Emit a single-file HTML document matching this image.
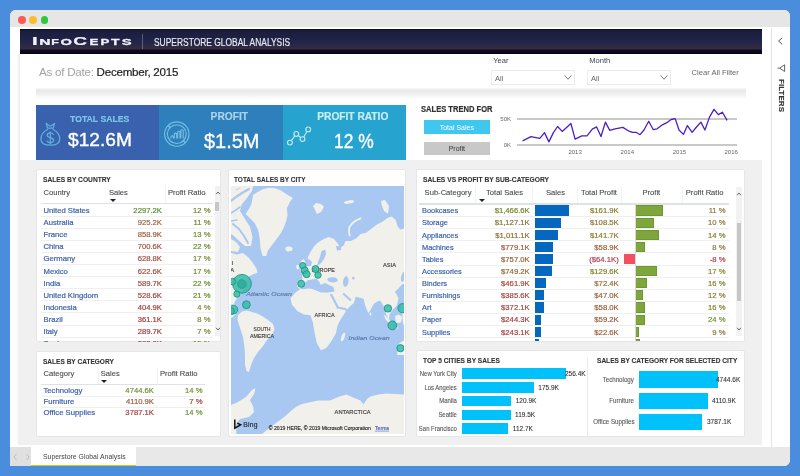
<!DOCTYPE html>
<html><head><meta charset="utf-8"><title>Superstore Global Analysis</title>
<style>
html,body{margin:0;padding:0;}
body{width:800px;height:476px;position:relative;overflow:hidden;background:#4b8ddd;font-family:'Liberation Sans', sans-serif;}
body div{font-family:'Liberation Sans', sans-serif;}
</style></head><body>
<div style="position:absolute;left:0;top:0;width:800px;height:476px;will-change:transform">
<div style="position:absolute;left:10px;top:10px;width:780px;height:456px;border-radius:6px;background:#fff;overflow:hidden"><div style="position:absolute;left:0;top:0;width:780px;height:17.2px;background:#e6e6e6"></div><div style="position:absolute;left:0;top:436.5px;width:780px;height:20px;background:#e8e8e8"></div></div>
<div style="position:absolute;left:17.80px;top:16.00px;width:7.8px;height:7.8px;border-radius:50%;background:#fc5a55"></div>
<div style="position:absolute;left:29.30px;top:16.00px;width:7.8px;height:7.8px;border-radius:50%;background:#fdbb2f"></div>
<div style="position:absolute;left:40.50px;top:16.00px;width:7.8px;height:7.8px;border-radius:50%;background:#2fc641"></div>
<div style="position:absolute;left:20.00px;top:29.00px;width:742.00px;height:25.00px;background:linear-gradient(#0b0b26 0%, #1b1d3d 8%, #23254a 55%, #2c2a45 70%, #3a2a3a 78%, #0c0b22 86%, #05051a 100%);"></div>
<svg id="logo" style="position:absolute;left:0;top:0" width="800" height="60" viewBox="0 0 800 60"><text transform="translate(32.00 45.4) scale(1.770 1)" font-size="11.3" font-weight="bold" fill="#f2f2f8" stroke="#f2f2f8" stroke-width="0.25" font-family="Liberation Sans, sans-serif">I</text><text transform="translate(39.21 45.4) scale(1.847 1)" font-size="8.4" font-weight="bold" fill="#f2f2f8" stroke="#f2f2f8" stroke-width="0.25" font-family="Liberation Sans, sans-serif">N</text><text transform="translate(51.13 45.4) scale(1.476 1)" font-size="8.4" font-weight="bold" fill="#f2f2f8" stroke="#f2f2f8" stroke-width="0.25" font-family="Liberation Sans, sans-serif">F</text><text transform="translate(60.41 45.4) scale(1.752 1)" font-size="8.4" font-weight="bold" fill="#f2f2f8" stroke="#f2f2f8" stroke-width="0.25" font-family="Liberation Sans, sans-serif">O</text><text transform="translate(73.24 45.4) scale(1.688 1)" font-size="11.3" font-weight="bold" fill="#f2f2f8" stroke="#f2f2f8" stroke-width="0.25" font-family="Liberation Sans, sans-serif">C</text><text transform="translate(89.56 45.4) scale(1.594 1)" font-size="8.4" font-weight="bold" fill="#f2f2f8" stroke="#f2f2f8" stroke-width="0.25" font-family="Liberation Sans, sans-serif">E</text><text transform="translate(100.56 45.4) scale(1.594 1)" font-size="8.4" font-weight="bold" fill="#f2f2f8" stroke="#f2f2f8" stroke-width="0.25" font-family="Liberation Sans, sans-serif">P</text><text transform="translate(111.06 45.4) scale(1.655 1)" font-size="8.4" font-weight="bold" fill="#f2f2f8" stroke="#f2f2f8" stroke-width="0.25" font-family="Liberation Sans, sans-serif">T</text><text transform="translate(121.76 45.4) scale(1.766 1)" font-size="8.4" font-weight="bold" fill="#f2f2f8" stroke="#f2f2f8" stroke-width="0.25" font-family="Liberation Sans, sans-serif">S</text></svg>
<div style="position:absolute;left:142.00px;top:34.00px;width:1.00px;height:15.00px;background:rgba(200,200,220,0.35);"></div>
<div id="hdr" style="position:absolute;top:37.55px;font-size:10.1px;line-height:10.1px;color:#ececf2;font-weight:normal;font-style:normal;white-space:nowrap;letter-spacing:0px;-webkit-text-stroke:0.15px currentColor;left:154.00px;transform:scaleX(0.835);transform-origin:0 0;">SUPERSTORE GLOBAL ANALYSIS</div>
<div style="position:absolute;left:770.50px;top:28.00px;width:1.00px;height:419.00px;background:#e2e2e2;"></div>
<svg style="position:absolute;left:0;top:0" width="800" height="100" viewBox="0 0 800 100"><path d="M782.2 37.8 L778.6 41 L782.2 44.3" fill="none" stroke="#555" stroke-width="1"/></svg>
<svg style="position:absolute;left:0;top:0" width="800" height="100" viewBox="0 0 800 100"><path d="M784.6 64.8 L784.6 71.5 L779.6 68.2 Z M779.6 68.2 L777.6 68.2" fill="none" stroke="#555" stroke-width="0.9" stroke-linejoin="round"/></svg>
<div id="filters" style="position:absolute;left:781px;top:79px;font-family:'Liberation Sans', sans-serif;font-size:7.9px;line-height:9px;font-weight:bold;color:#333;white-space:nowrap;-webkit-text-stroke:0.15px #333;transform-origin:0 0;transform:rotate(90deg) translate(0,-4.5px);letter-spacing:0.1px">FILTERS</div>
<div style="position:absolute;left:19.00px;top:160.00px;width:743.00px;height:285.00px;background:#f0f0f0;"></div>
<div style="position:absolute;left:16.00px;top:54.00px;width:4.00px;height:391.00px;background:linear-gradient(to right, #ffffff, #f6f6f6 50%, #ebebeb);"></div>
<div id="date" style="position:absolute;left:39px;top:65.98px;font-family:'Liberation Sans', sans-serif;font-size:11.6px;line-height:11.6px;white-space:nowrap;letter-spacing:-0.25px"><span style="color:#a3a3a3">As of Date: </span><span style="color:#222;-webkit-text-stroke:0.2px #222">December, 2015</span></div>
<div id="year" style="position:absolute;top:56.87px;font-size:7.6px;line-height:7.6px;color:#3a4656;font-weight:normal;font-style:normal;white-space:nowrap;letter-spacing:0px;left:493.20px;">Year</div>
<div id="month" style="position:absolute;top:56.87px;font-size:7.6px;line-height:7.6px;color:#3a4656;font-weight:normal;font-style:normal;white-space:nowrap;letter-spacing:0px;left:589.20px;">Month</div>
<div style="position:absolute;left:491.20px;top:69.80px;width:84.00px;height:15.70px;background:#fff;box-sizing:border-box;border:1px solid #ececec"></div>
<div style="position:absolute;top:75.07px;font-size:7.6px;line-height:7.6px;color:#666;font-weight:normal;font-style:normal;white-space:nowrap;letter-spacing:0px;left:495.00px;">All</div>
<svg style="position:absolute;left:564.20px;top:75px" width="8" height="5" viewBox="0 0 8 5"><path d="M0.5 0.5 L4 4.2 L7.5 0.5" fill="none" stroke="#666" stroke-width="0.9"/></svg>
<div style="position:absolute;left:587.20px;top:69.80px;width:84.20px;height:15.70px;background:#fff;box-sizing:border-box;border:1px solid #ececec"></div>
<div style="position:absolute;top:75.07px;font-size:7.6px;line-height:7.6px;color:#666;font-weight:normal;font-style:normal;white-space:nowrap;letter-spacing:0px;left:591.00px;">All</div>
<svg style="position:absolute;left:660.40px;top:75px" width="8" height="5" viewBox="0 0 8 5"><path d="M0.5 0.5 L4 4.2 L7.5 0.5" fill="none" stroke="#666" stroke-width="0.9"/></svg>
<div id="clear" style="position:absolute;top:68.87px;font-size:7.6px;line-height:7.6px;color:#666;font-weight:normal;font-style:normal;white-space:nowrap;letter-spacing:0px;left:691.60px;">Clear All Filter</div>
<div style="position:absolute;left:36.00px;top:87.50px;width:710.00px;height:11.00px;background:linear-gradient(#f8f8f8 0%, #e8e8e8 22%, #eeeeee 50%, #f8f8f8 80%, #ffffff 100%);"></div>
<div style="position:absolute;left:36.00px;top:98.50px;width:710.00px;height:5.50px;background:#fff;"></div>
<div style="position:absolute;left:36.00px;top:105.00px;width:123.00px;height:54.50px;background:#3a61ad;"></div>
<div style="position:absolute;left:159.00px;top:105.00px;width:124.00px;height:54.50px;background:#2e80bd;"></div>
<div style="position:absolute;left:283.00px;top:105.00px;width:123.40px;height:54.50px;background:#26a4cf;"></div>
<div id="k1t" style="position:absolute;top:114.47px;font-size:9.6px;line-height:9.6px;color:#7cc6ea;font-weight:bold;font-style:normal;white-space:nowrap;letter-spacing:0px;-webkit-text-stroke:0.2px currentColor;left:70.30px;transform:scaleX(0.905);transform-origin:0 0;">TOTAL SALES</div>
<div id="k1v" style="position:absolute;top:131.27px;font-size:18.7px;line-height:18.7px;color:#ffffff;font-weight:normal;font-style:normal;white-space:nowrap;letter-spacing:0px;-webkit-text-stroke:0.35px currentColor;left:67.60px;transform:scaleX(1.026);transform-origin:0 0;">$12.6M</div>
<div id="k2t" style="position:absolute;top:112.37px;font-size:10.2px;line-height:10.2px;color:#a9d4ea;font-weight:bold;font-style:normal;white-space:nowrap;letter-spacing:0px;-webkit-text-stroke:0.2px currentColor;left:229.30px;transform:translateX(-50%) ;transform-origin:0 0">PROFIT</div>
<div id="k2v" style="position:absolute;top:130.57px;font-size:20px;line-height:20px;color:#ffffff;font-weight:normal;font-style:normal;white-space:nowrap;letter-spacing:0px;-webkit-text-stroke:0.35px currentColor;left:231.70px;transform:translateX(-50%) ;transform-origin:0 0">$1.5M</div>
<div id="k3t" style="position:absolute;top:112.37px;font-size:10.2px;line-height:10.2px;color:#c9ecf3;font-weight:bold;font-style:normal;white-space:nowrap;letter-spacing:0px;-webkit-text-stroke:0.2px currentColor;left:352.80px;transform:translateX(-50%) ;transform-origin:0 0">PROFIT RATIO</div>
<div id="k3v" style="position:absolute;top:130.57px;font-size:20px;line-height:20px;color:#ffffff;font-weight:normal;font-style:normal;white-space:nowrap;letter-spacing:0px;-webkit-text-stroke:0.35px currentColor;left:334.00px;transform:scaleX(0.87);transform-origin:0 0;">12 %</div>
<svg style="position:absolute;left:0;top:0" width="800" height="200" viewBox="0 0 800 200"><g fill="none" stroke="#5eb0de" stroke-width="1.25" stroke-linejoin="round"><path d="M46.2 123.4 L50.3 126.2 L54.6 123.4 L53.1 128.2 L47.6 128.2 Z"/><path d="M48 129.2 C42.5 132 40.9 135.8 40.9 139 C40.9 143.4 44.6 145.2 50.4 145.2 C56.2 145.2 59.8 143.4 59.8 139 C59.8 135.8 58.2 132 52.7 129.2"/><path d="M53.6 134.7 C53 133.5 52 132.9 50.3 132.9 C48.4 132.9 47.2 133.9 47.2 135.3 C47.2 138.3 53.7 137 53.7 140.3 C53.7 141.6 52.4 142.5 50.3 142.5 C48.6 142.5 47.4 141.8 46.9 140.7"/><path d="M50.3 131.4 L50.3 144"/></g></svg>
<svg style="position:absolute;left:0;top:0" width="800" height="200" viewBox="0 0 800 200"><g fill="none" stroke="#78bfe4" stroke-width="1.1"><circle cx="176.8" cy="134.1" r="12.2"/><circle cx="176.8" cy="134.1" r="9.4"/><path d="M171.0 138.4 L171.0 136.5 Q172.2 135.0 173.4 136.5 L173.4 138.4 M174.3 138.4 L174.3 133.9 Q175.5 132.4 176.70000000000002 133.9 L176.70000000000002 138.4 M177.6 138.4 L177.6 132.0 Q178.79999999999998 130.5 180.0 132.0 L180.0 138.4 M180.8 138.4 L180.8 130.5 Q182.0 129.0 183.20000000000002 130.5 L183.20000000000002 138.4 "/><path d="M168.3 125.8 L170.6 127.9 M183 140.3 L185.3 142.4" stroke-width="1.3"/></g></svg>
<svg style="position:absolute;left:0;top:0" width="800" height="200" viewBox="0 0 800 200"><g fill="none" stroke="#c4e8f1" stroke-width="1.15"><circle cx="289.9" cy="142.6" r="2.4"/><circle cx="296.3" cy="133.9" r="2.4"/><circle cx="302.5" cy="139.1" r="2.4"/><circle cx="308.2" cy="129.4" r="2.4"/><path d="M291.3 140.7 L294.9 135.8 M298.2 135.5 L300.6 137.5 M303.8 137 L306.9 131.5"/></g></svg>
<div id="trendt" style="position:absolute;top:104.87px;font-size:8.3px;line-height:8.3px;color:#333;font-weight:bold;font-style:normal;white-space:nowrap;letter-spacing:0px;-webkit-text-stroke:0.2px currentColor;left:421.20px;transform:scaleX(0.913);transform-origin:0 0;">SALES TREND FOR</div>
<div style="position:absolute;left:423.80px;top:120.00px;width:66.00px;height:14.00px;background:#3fc7f0;"></div>
<div style="position:absolute;top:123.77px;font-size:7px;line-height:7px;color:#fff;font-weight:normal;font-style:normal;white-space:nowrap;letter-spacing:0px;left:456.80px;transform:translateX(-50%) ;transform-origin:0 0">Total Sales</div>
<div style="position:absolute;left:423.80px;top:141.80px;width:66.00px;height:13.40px;background:#c8c8c8;"></div>
<div style="position:absolute;top:145.37px;font-size:7px;line-height:7px;color:#333;font-weight:normal;font-style:normal;white-space:nowrap;letter-spacing:0px;left:456.80px;transform:translateX(-50%) ;transform-origin:0 0">Profit</div>
<div style="position:absolute;top:115.92px;font-size:6px;line-height:6px;color:#666;font-weight:normal;font-style:normal;white-space:nowrap;letter-spacing:0px;right:289.00px;text-align:right;">50K</div>
<div style="position:absolute;top:141.92px;font-size:6px;line-height:6px;color:#666;font-weight:normal;font-style:normal;white-space:nowrap;letter-spacing:0px;right:289.00px;text-align:right;">0K</div>
<div style="position:absolute;left:517.40px;top:118.10px;width:219.60px;height:1.80px;background:#c8c8c8;"></div>
<div style="position:absolute;left:517.40px;top:144.00px;width:219.60px;height:1.60px;background:#c8c8c8;"></div>
<div style="position:absolute;top:149.12px;font-size:6px;line-height:6px;color:#666;font-weight:normal;font-style:normal;white-space:nowrap;letter-spacing:0px;left:575.10px;transform:translateX(-50%) ;transform-origin:0 0">2013</div>
<div style="position:absolute;top:149.12px;font-size:6px;line-height:6px;color:#666;font-weight:normal;font-style:normal;white-space:nowrap;letter-spacing:0px;left:627.30px;transform:translateX(-50%) ;transform-origin:0 0">2014</div>
<div style="position:absolute;top:149.12px;font-size:6px;line-height:6px;color:#666;font-weight:normal;font-style:normal;white-space:nowrap;letter-spacing:0px;left:679.40px;transform:translateX(-50%) ;transform-origin:0 0">2015</div>
<div style="position:absolute;top:149.12px;font-size:6px;line-height:6px;color:#666;font-weight:normal;font-style:normal;white-space:nowrap;letter-spacing:0px;left:731.20px;transform:translateX(-50%) ;transform-origin:0 0">2016</div>
<svg style="position:absolute;left:0;top:0" width="800" height="476" viewBox="0 0 800 476"><path d="M522.6 140.9 L531.0 136.7 L539.8 138.4 L544.5 132.6 L548.9 141.9 L553.4 132.6 L557.6 126.5 L562.2 131.4 L570.9 123.5 L575.1 139.1 L581.8 135.8 L587.0 135.8 L592.3 129.1 L596.6 126.9 L601.0 136.5 L605.4 122.1 L609.8 130.4 L615.0 128.8 L622.9 127.4 L629.0 131.2 L632.5 132.3 L636.0 132.3 L640.0 134.7 L644.0 130.0 L648.7 121.3 L653.3 129.7 L657.1 128.8 L662.4 124.8 L666.8 122.7 L671.1 119.5 L675.2 118.6 L679.0 130.0 L683.4 134.4 L687.4 125.6 L692.1 132.3 L696.5 127.0 L700.9 122.1 L704.9 130.0 L709.6 116.9 L714.0 109.4 L718.4 114.6 L722.4 112.2 L727.1 120.4" fill="none" stroke="#4b1fc8" stroke-width="1.3" stroke-linejoin="round"/></svg>
<div style="position:absolute;left:36px;top:169px;width:185px;height:173px;background:#fff;box-sizing:border-box;border:1px solid #e6e6e6;border-radius:2px"></div>
<div style="position:absolute;left:36px;top:350.5px;width:185px;height:86.5px;background:#fff;box-sizing:border-box;border:1px solid #e6e6e6;border-radius:2px"></div>
<div style="position:absolute;left:227.6px;top:169px;width:178.79999999999998px;height:268px;background:#fff;box-sizing:border-box;border:1px solid #e6e6e6;border-radius:2px"></div>
<div style="position:absolute;left:415.5px;top:169px;width:329.5px;height:173.2px;background:#fff;box-sizing:border-box;border:1px solid #e6e6e6;border-radius:2px"></div>
<div style="position:absolute;left:415.5px;top:350.2px;width:329.5px;height:86.80000000000001px;background:#fff;box-sizing:border-box;border:1px solid #e6e6e6;border-radius:2px"></div>
<div id="t_country" style="position:absolute;top:175.57px;font-size:7.6px;line-height:7.6px;color:#333;font-weight:bold;font-style:normal;white-space:nowrap;letter-spacing:0px;-webkit-text-stroke:0.1px currentColor;left:43.00px;transform:scaleX(0.878);transform-origin:0 0;">SALES BY COUNTRY</div>
<div style="position:absolute;left:41.00px;top:186.00px;width:172.00px;height:17.00px;background:#fff;"></div>
<div id="h_country" style="position:absolute;top:188.87px;font-size:7.6px;line-height:7.6px;color:#4a4a4a;font-weight:normal;font-style:normal;white-space:nowrap;letter-spacing:0px;-webkit-text-stroke:0.1px currentColor;left:43.50px;">Country</div>
<div style="position:absolute;top:188.87px;font-size:7.6px;line-height:7.6px;color:#4a4a4a;font-weight:normal;font-style:normal;white-space:nowrap;letter-spacing:0px;-webkit-text-stroke:0.1px currentColor;left:108.90px;">Sales</div>
<div id="h_pr" style="position:absolute;top:188.87px;font-size:7.6px;line-height:7.6px;color:#4a4a4a;font-weight:normal;font-style:normal;white-space:nowrap;letter-spacing:0px;-webkit-text-stroke:0.1px currentColor;left:167.90px;">Profit Ratio</div>
<div style="position:absolute;left:164.50px;top:186.00px;width:0.70px;height:17.00px;background:#f3f3f3;"></div>
<div style="position:absolute;left:109.5px;top:198.5px;width:0;height:0;border-left:3px solid transparent;border-right:3px solid transparent;border-top:3.5px solid #222"></div>
<div style="position:absolute;left:41.00px;top:202.60px;width:172.00px;height:1.60px;background:#dde2ea;"></div>
<div style="position:absolute;left:0;top:0;width:800px;height:341.8px;overflow:hidden">
<div style="position:absolute;top:207.08px;font-size:7.7px;line-height:7.7px;color:#3d62aa;font-weight:normal;font-style:normal;white-space:nowrap;letter-spacing:0px;-webkit-text-stroke:0.2px currentColor;left:43.50px;">United States</div>
<div style="position:absolute;top:207.08px;font-size:7.7px;line-height:7.7px;color:#5e8f31;font-weight:normal;font-style:normal;white-space:nowrap;letter-spacing:0px;-webkit-text-stroke:0.2px currentColor;right:638.00px;text-align:right;">2297.2K</div>
<div style="position:absolute;top:207.08px;font-size:7.7px;line-height:7.7px;color:#758c31;font-weight:normal;font-style:normal;white-space:nowrap;letter-spacing:0px;-webkit-text-stroke:0.2px currentColor;right:589.50px;text-align:right;">12 %</div>
<div style="position:absolute;left:41.00px;top:215.60px;width:172.00px;height:0.80px;background:#efefef;"></div>
<div style="position:absolute;top:219.18px;font-size:7.7px;line-height:7.7px;color:#3d62aa;font-weight:normal;font-style:normal;white-space:nowrap;letter-spacing:0px;-webkit-text-stroke:0.2px currentColor;left:43.50px;">Australia</div>
<div style="position:absolute;top:219.18px;font-size:7.7px;line-height:7.7px;color:#9c6848;font-weight:normal;font-style:normal;white-space:nowrap;letter-spacing:0px;-webkit-text-stroke:0.2px currentColor;right:638.00px;text-align:right;">925.2K</div>
<div style="position:absolute;top:219.18px;font-size:7.7px;line-height:7.7px;color:#758631;font-weight:normal;font-style:normal;white-space:nowrap;letter-spacing:0px;-webkit-text-stroke:0.2px currentColor;right:589.50px;text-align:right;">11 %</div>
<div style="position:absolute;left:41.00px;top:227.70px;width:172.00px;height:0.80px;background:#efefef;"></div>
<div style="position:absolute;top:231.28px;font-size:7.7px;line-height:7.7px;color:#3d62aa;font-weight:normal;font-style:normal;white-space:nowrap;letter-spacing:0px;-webkit-text-stroke:0.2px currentColor;left:43.50px;">France</div>
<div style="position:absolute;top:231.28px;font-size:7.7px;line-height:7.7px;color:#9c5e44;font-weight:normal;font-style:normal;white-space:nowrap;letter-spacing:0px;-webkit-text-stroke:0.2px currentColor;right:638.00px;text-align:right;">858.9K</div>
<div style="position:absolute;top:231.28px;font-size:7.7px;line-height:7.7px;color:#758c31;font-weight:normal;font-style:normal;white-space:nowrap;letter-spacing:0px;-webkit-text-stroke:0.2px currentColor;right:589.50px;text-align:right;">13 %</div>
<div style="position:absolute;left:41.00px;top:239.80px;width:172.00px;height:0.80px;background:#efefef;"></div>
<div style="position:absolute;top:243.38px;font-size:7.7px;line-height:7.7px;color:#3d62aa;font-weight:normal;font-style:normal;white-space:nowrap;letter-spacing:0px;-webkit-text-stroke:0.2px currentColor;left:43.50px;">China</div>
<div style="position:absolute;top:243.38px;font-size:7.7px;line-height:7.7px;color:#a05544;font-weight:normal;font-style:normal;white-space:nowrap;letter-spacing:0px;-webkit-text-stroke:0.2px currentColor;right:638.00px;text-align:right;">700.6K</div>
<div style="position:absolute;top:243.38px;font-size:7.7px;line-height:7.7px;color:#689030;font-weight:normal;font-style:normal;white-space:nowrap;letter-spacing:0px;-webkit-text-stroke:0.2px currentColor;right:589.50px;text-align:right;">22 %</div>
<div style="position:absolute;left:41.00px;top:251.90px;width:172.00px;height:0.80px;background:#efefef;"></div>
<div style="position:absolute;top:255.48px;font-size:7.7px;line-height:7.7px;color:#3d62aa;font-weight:normal;font-style:normal;white-space:nowrap;letter-spacing:0px;-webkit-text-stroke:0.2px currentColor;left:43.50px;">Germany</div>
<div style="position:absolute;top:255.48px;font-size:7.7px;line-height:7.7px;color:#a15041;font-weight:normal;font-style:normal;white-space:nowrap;letter-spacing:0px;-webkit-text-stroke:0.2px currentColor;right:638.00px;text-align:right;">628.8K</div>
<div style="position:absolute;top:255.48px;font-size:7.7px;line-height:7.7px;color:#748f31;font-weight:normal;font-style:normal;white-space:nowrap;letter-spacing:0px;-webkit-text-stroke:0.2px currentColor;right:589.50px;text-align:right;">17 %</div>
<div style="position:absolute;left:41.00px;top:264.00px;width:172.00px;height:0.80px;background:#efefef;"></div>
<div style="position:absolute;top:267.58px;font-size:7.7px;line-height:7.7px;color:#3d62aa;font-weight:normal;font-style:normal;white-space:nowrap;letter-spacing:0px;-webkit-text-stroke:0.2px currentColor;left:43.50px;">Mexico</div>
<div style="position:absolute;top:267.58px;font-size:7.7px;line-height:7.7px;color:#a15041;font-weight:normal;font-style:normal;white-space:nowrap;letter-spacing:0px;-webkit-text-stroke:0.2px currentColor;right:638.00px;text-align:right;">622.6K</div>
<div style="position:absolute;top:267.58px;font-size:7.7px;line-height:7.7px;color:#748f31;font-weight:normal;font-style:normal;white-space:nowrap;letter-spacing:0px;-webkit-text-stroke:0.2px currentColor;right:589.50px;text-align:right;">17 %</div>
<div style="position:absolute;left:41.00px;top:276.10px;width:172.00px;height:0.80px;background:#efefef;"></div>
<div style="position:absolute;top:279.68px;font-size:7.7px;line-height:7.7px;color:#3d62aa;font-weight:normal;font-style:normal;white-space:nowrap;letter-spacing:0px;-webkit-text-stroke:0.2px currentColor;left:43.50px;">India</div>
<div style="position:absolute;top:279.68px;font-size:7.7px;line-height:7.7px;color:#a24b3f;font-weight:normal;font-style:normal;white-space:nowrap;letter-spacing:0px;-webkit-text-stroke:0.2px currentColor;right:638.00px;text-align:right;">589.7K</div>
<div style="position:absolute;top:279.68px;font-size:7.7px;line-height:7.7px;color:#689030;font-weight:normal;font-style:normal;white-space:nowrap;letter-spacing:0px;-webkit-text-stroke:0.2px currentColor;right:589.50px;text-align:right;">22 %</div>
<div style="position:absolute;left:41.00px;top:288.20px;width:172.00px;height:0.80px;background:#efefef;"></div>
<div style="position:absolute;top:291.78px;font-size:7.7px;line-height:7.7px;color:#3d62aa;font-weight:normal;font-style:normal;white-space:nowrap;letter-spacing:0px;-webkit-text-stroke:0.2px currentColor;left:43.50px;">United Kingdom</div>
<div style="position:absolute;top:291.78px;font-size:7.7px;line-height:7.7px;color:#a2473f;font-weight:normal;font-style:normal;white-space:nowrap;letter-spacing:0px;-webkit-text-stroke:0.2px currentColor;right:638.00px;text-align:right;">528.6K</div>
<div style="position:absolute;top:291.78px;font-size:7.7px;line-height:7.7px;color:#6a9130;font-weight:normal;font-style:normal;white-space:nowrap;letter-spacing:0px;-webkit-text-stroke:0.2px currentColor;right:589.50px;text-align:right;">21 %</div>
<div style="position:absolute;left:41.00px;top:300.30px;width:172.00px;height:0.80px;background:#efefef;"></div>
<div style="position:absolute;top:303.88px;font-size:7.7px;line-height:7.7px;color:#3d62aa;font-weight:normal;font-style:normal;white-space:nowrap;letter-spacing:0px;-webkit-text-stroke:0.2px currentColor;left:43.50px;">Indonesia</div>
<div style="position:absolute;top:303.88px;font-size:7.7px;line-height:7.7px;color:#a5413d;font-weight:normal;font-style:normal;white-space:nowrap;letter-spacing:0px;-webkit-text-stroke:0.2px currentColor;right:638.00px;text-align:right;">404.9K</div>
<div style="position:absolute;top:303.88px;font-size:7.7px;line-height:7.7px;color:#8b893b;font-weight:normal;font-style:normal;white-space:nowrap;letter-spacing:0px;-webkit-text-stroke:0.2px currentColor;right:589.50px;text-align:right;">4 %</div>
<div style="position:absolute;left:41.00px;top:312.40px;width:172.00px;height:0.80px;background:#efefef;"></div>
<div style="position:absolute;top:315.98px;font-size:7.7px;line-height:7.7px;color:#3d62aa;font-weight:normal;font-style:normal;white-space:nowrap;letter-spacing:0px;-webkit-text-stroke:0.2px currentColor;left:43.50px;">Brazil</div>
<div style="position:absolute;top:315.98px;font-size:7.7px;line-height:7.7px;color:#a73f3d;font-weight:normal;font-style:normal;white-space:nowrap;letter-spacing:0px;-webkit-text-stroke:0.2px currentColor;right:638.00px;text-align:right;">361.1K</div>
<div style="position:absolute;top:315.98px;font-size:7.7px;line-height:7.7px;color:#808a36;font-weight:normal;font-style:normal;white-space:nowrap;letter-spacing:0px;-webkit-text-stroke:0.2px currentColor;right:589.50px;text-align:right;">8 %</div>
<div style="position:absolute;left:41.00px;top:324.50px;width:172.00px;height:0.80px;background:#efefef;"></div>
<div style="position:absolute;top:328.08px;font-size:7.7px;line-height:7.7px;color:#3d62aa;font-weight:normal;font-style:normal;white-space:nowrap;letter-spacing:0px;-webkit-text-stroke:0.2px currentColor;left:43.50px;">Italy</div>
<div style="position:absolute;top:328.08px;font-size:7.7px;line-height:7.7px;color:#a83c3d;font-weight:normal;font-style:normal;white-space:nowrap;letter-spacing:0px;-webkit-text-stroke:0.2px currentColor;right:638.00px;text-align:right;">289.7K</div>
<div style="position:absolute;top:328.08px;font-size:7.7px;line-height:7.7px;color:#818836;font-weight:normal;font-style:normal;white-space:nowrap;letter-spacing:0px;-webkit-text-stroke:0.2px currentColor;right:589.50px;text-align:right;">7 %</div>
<div style="position:absolute;left:41.00px;top:336.60px;width:172.00px;height:0.80px;background:#efefef;"></div>
<div style="position:absolute;top:340.18px;font-size:7.7px;line-height:7.7px;color:#3d62aa;font-weight:normal;font-style:normal;white-space:nowrap;letter-spacing:0px;-webkit-text-stroke:0.2px currentColor;left:43.50px;">Spain</div>
<div style="position:absolute;top:340.18px;font-size:7.7px;line-height:7.7px;color:#a83c3d;font-weight:normal;font-style:normal;white-space:nowrap;letter-spacing:0px;-webkit-text-stroke:0.2px currentColor;right:638.00px;text-align:right;">283.6K</div>
<div style="position:absolute;top:340.18px;font-size:7.7px;line-height:7.7px;color:#758c31;font-weight:normal;font-style:normal;white-space:nowrap;letter-spacing:0px;-webkit-text-stroke:0.2px currentColor;right:589.50px;text-align:right;">15 %</div>
<div style="position:absolute;left:41.00px;top:348.70px;width:172.00px;height:0.80px;background:#efefef;"></div>
</div>
<div style="position:absolute;left:214.50px;top:186.00px;width:5.70px;height:150.00px;background:#f2f2f2;"></div>
<div style="position:absolute;left:215.00px;top:202.00px;width:3.60px;height:9.00px;background:#c6c6c6;"></div>
<svg style="position:absolute;left:214.5px;top:191px" width="6" height="4" viewBox="0 0 6 4"><path d="M1 3.2 L3 1 L5 3.2" fill="none" stroke="#444" stroke-width="0.8"/></svg>
<svg style="position:absolute;left:214.5px;top:327px" width="6" height="4" viewBox="0 0 6 4"><path d="M1 0.8 L3 3 L5 0.8" fill="none" stroke="#444" stroke-width="0.8"/></svg>
<div id="t_cat" style="position:absolute;top:357.57px;font-size:7.6px;line-height:7.6px;color:#333;font-weight:bold;font-style:normal;white-space:nowrap;letter-spacing:0px;-webkit-text-stroke:0.1px currentColor;left:43.00px;transform:scaleX(0.862);transform-origin:0 0;">SALES BY CATEGORY</div>
<div style="position:absolute;top:370.27px;font-size:7.6px;line-height:7.6px;color:#4a4a4a;font-weight:normal;font-style:normal;white-space:nowrap;letter-spacing:0px;-webkit-text-stroke:0.1px currentColor;left:43.50px;">Category</div>
<div style="position:absolute;top:370.27px;font-size:7.6px;line-height:7.6px;color:#4a4a4a;font-weight:normal;font-style:normal;white-space:nowrap;letter-spacing:0px;-webkit-text-stroke:0.1px currentColor;left:100.70px;">Sales</div>
<div style="position:absolute;top:370.27px;font-size:7.6px;line-height:7.6px;color:#4a4a4a;font-weight:normal;font-style:normal;white-space:nowrap;letter-spacing:0px;-webkit-text-stroke:0.1px currentColor;left:160.00px;">Profit Ratio</div>
<div style="position:absolute;left:97.50px;top:368.00px;width:0.70px;height:16.00px;background:#f0f0f0;"></div>
<div style="position:absolute;left:156.50px;top:368.00px;width:0.70px;height:16.00px;background:#f0f0f0;"></div>
<div style="position:absolute;left:100.5px;top:380px;width:0;height:0;border-left:3px solid transparent;border-right:3px solid transparent;border-top:3.5px solid #222"></div>
<div style="position:absolute;left:41.00px;top:383.80px;width:164.00px;height:1.50px;background:#dde2ea;"></div>
<div style="position:absolute;top:387.28px;font-size:7.7px;line-height:7.7px;color:#3d62aa;font-weight:normal;font-style:normal;white-space:nowrap;letter-spacing:0px;-webkit-text-stroke:0.2px currentColor;left:43.50px;">Technology</div>
<div style="position:absolute;top:387.28px;font-size:7.7px;line-height:7.7px;color:#729233;font-weight:normal;font-style:normal;white-space:nowrap;letter-spacing:0px;-webkit-text-stroke:0.2px currentColor;right:646.00px;text-align:right;">4744.6K</div>
<div style="position:absolute;top:387.28px;font-size:7.7px;line-height:7.7px;color:#729233;font-weight:normal;font-style:normal;white-space:nowrap;letter-spacing:0px;-webkit-text-stroke:0.2px currentColor;right:597.50px;text-align:right;">14 %</div>
<div style="position:absolute;left:41.00px;top:396.40px;width:164.00px;height:0.80px;background:#efefef;"></div>
<div style="position:absolute;top:397.93px;font-size:7.7px;line-height:7.7px;color:#3d62aa;font-weight:normal;font-style:normal;white-space:nowrap;letter-spacing:0px;-webkit-text-stroke:0.2px currentColor;left:43.50px;">Furniture</div>
<div style="position:absolute;top:397.93px;font-size:7.7px;line-height:7.7px;color:#9d5f41;font-weight:normal;font-style:normal;white-space:nowrap;letter-spacing:0px;-webkit-text-stroke:0.2px currentColor;right:646.00px;text-align:right;">4110.9K</div>
<div style="position:absolute;top:397.93px;font-size:7.7px;line-height:7.7px;color:#aa3f3f;font-weight:normal;font-style:normal;white-space:nowrap;letter-spacing:0px;-webkit-text-stroke:0.2px currentColor;right:597.50px;text-align:right;">7 %</div>
<div style="position:absolute;left:41.00px;top:407.05px;width:164.00px;height:0.80px;background:#efefef;"></div>
<div style="position:absolute;top:408.58px;font-size:7.7px;line-height:7.7px;color:#3d62aa;font-weight:normal;font-style:normal;white-space:nowrap;letter-spacing:0px;-webkit-text-stroke:0.2px currentColor;left:43.50px;">Office Supplies</div>
<div style="position:absolute;top:408.58px;font-size:7.7px;line-height:7.7px;color:#aa3f3f;font-weight:normal;font-style:normal;white-space:nowrap;letter-spacing:0px;-webkit-text-stroke:0.2px currentColor;right:646.00px;text-align:right;">3787.1K</div>
<div style="position:absolute;top:408.58px;font-size:7.7px;line-height:7.7px;color:#729233;font-weight:normal;font-style:normal;white-space:nowrap;letter-spacing:0px;-webkit-text-stroke:0.2px currentColor;right:597.50px;text-align:right;">14 %</div>
<div id="t_map" style="position:absolute;top:175.57px;font-size:7.6px;line-height:7.6px;color:#333;font-weight:bold;font-style:normal;white-space:nowrap;letter-spacing:0px;-webkit-text-stroke:0.1px currentColor;left:233.70px;transform:scaleX(0.853);transform-origin:0 0;">TOTAL SALES BY CITY</div>
<div id="t_sub" style="position:absolute;top:175.57px;font-size:7.6px;line-height:7.6px;color:#333;font-weight:bold;font-style:normal;white-space:nowrap;letter-spacing:0px;-webkit-text-stroke:0.1px currentColor;left:422.60px;transform:scaleX(0.882);transform-origin:0 0;">SALES VS PROFIT BY SUB-CATEGORY</div>
<div id="h_sub" style="position:absolute;top:189.37px;font-size:7.6px;line-height:7.6px;color:#4a4a4a;font-weight:normal;font-style:normal;white-space:nowrap;letter-spacing:0px;-webkit-text-stroke:0.1px currentColor;left:424.60px;">Sub-Category</div>
<div id="h_ts" style="position:absolute;top:189.37px;font-size:7.6px;line-height:7.6px;color:#4a4a4a;font-weight:normal;font-style:normal;white-space:nowrap;letter-spacing:0px;-webkit-text-stroke:0.1px currentColor;left:486.00px;">Total Sales</div>
<div style="position:absolute;top:189.37px;font-size:7.6px;line-height:7.6px;color:#4a4a4a;font-weight:normal;font-style:normal;white-space:nowrap;letter-spacing:0px;-webkit-text-stroke:0.1px currentColor;left:546.00px;">Sales</div>
<div id="h_tp" style="position:absolute;top:189.37px;font-size:7.6px;line-height:7.6px;color:#4a4a4a;font-weight:normal;font-style:normal;white-space:nowrap;letter-spacing:0px;-webkit-text-stroke:0.1px currentColor;left:581.10px;">Total Profit</div>
<div style="position:absolute;top:189.37px;font-size:7.6px;line-height:7.6px;color:#4a4a4a;font-weight:normal;font-style:normal;white-space:nowrap;letter-spacing:0px;-webkit-text-stroke:0.1px currentColor;left:642.50px;">Profit</div>
<div id="h_spr" style="position:absolute;top:189.37px;font-size:7.6px;line-height:7.6px;color:#4a4a4a;font-weight:normal;font-style:normal;white-space:nowrap;letter-spacing:0px;-webkit-text-stroke:0.1px currentColor;left:685.80px;">Profit Ratio</div>
<div style="position:absolute;left:475.20px;top:187.00px;width:0.70px;height:16.00px;background:#f2f2f2;"></div>
<div style="position:absolute;left:532.20px;top:187.00px;width:0.70px;height:16.00px;background:#f2f2f2;"></div>
<div style="position:absolute;left:577.20px;top:187.00px;width:0.70px;height:16.00px;background:#f2f2f2;"></div>
<div style="position:absolute;left:621.20px;top:187.00px;width:0.70px;height:16.00px;background:#f2f2f2;"></div>
<div style="position:absolute;left:682.00px;top:187.00px;width:0.70px;height:16.00px;background:#f2f2f2;"></div>
<div style="position:absolute;left:479px;top:198.5px;width:0;height:0;border-left:3px solid transparent;border-right:3px solid transparent;border-top:3.5px solid #222"></div>
<div style="position:absolute;left:419.00px;top:203.00px;width:310.00px;height:1.60px;background:#dde2ea;"></div>
<div style="position:absolute;left:0;top:0;width:800px;height:340.5px;overflow:hidden">
<div style="position:absolute;top:207.28px;font-size:7.7px;line-height:7.7px;color:#3d62aa;font-weight:normal;font-style:normal;white-space:nowrap;letter-spacing:0px;-webkit-text-stroke:0.2px currentColor;left:422.40px;transform:scaleX(0.96);transform-origin:0 0;">Bookcases</div>
<div style="position:absolute;top:207.28px;font-size:7.7px;line-height:7.7px;color:#798327;font-weight:normal;font-style:normal;white-space:nowrap;letter-spacing:0px;-webkit-text-stroke:0.2px currentColor;right:270.30px;text-align:right;">$1,466.6K</div>
<div style="position:absolute;left:535.20px;top:205.40px;width:33.80px;height:10.20px;background:#0567bd;"></div>
<div style="position:absolute;top:207.28px;font-size:7.7px;line-height:7.7px;color:#838329;font-weight:normal;font-style:normal;white-space:nowrap;letter-spacing:0px;-webkit-text-stroke:0.2px currentColor;right:181.30px;text-align:right;">$161.9K</div>
<div style="position:absolute;left:635.10px;top:205.40px;width:27.70px;height:10.20px;background:#7ea63c;box-sizing:border-box;border:0.8px solid #6a9a2c"></div>
<div style="position:absolute;top:207.28px;font-size:7.7px;line-height:7.7px;color:#8f7a36;font-weight:normal;font-style:normal;white-space:nowrap;letter-spacing:0px;-webkit-text-stroke:0.2px currentColor;right:74.40px;text-align:right;">11 %</div>
<div style="position:absolute;left:419.00px;top:216.00px;width:310.00px;height:0.80px;background:#efefef;"></div>
<div style="position:absolute;top:219.41px;font-size:7.7px;line-height:7.7px;color:#3d62aa;font-weight:normal;font-style:normal;white-space:nowrap;letter-spacing:0px;-webkit-text-stroke:0.2px currentColor;left:422.40px;transform:scaleX(0.96);transform-origin:0 0;">Storage</div>
<div style="position:absolute;top:219.41px;font-size:7.7px;line-height:7.7px;color:#887531;font-weight:normal;font-style:normal;white-space:nowrap;letter-spacing:0px;-webkit-text-stroke:0.2px currentColor;right:270.30px;text-align:right;">$1,127.1K</div>
<div style="position:absolute;left:535.20px;top:217.53px;width:25.55px;height:10.20px;background:#0567bd;"></div>
<div style="position:absolute;top:219.41px;font-size:7.7px;line-height:7.7px;color:#917536;font-weight:normal;font-style:normal;white-space:nowrap;letter-spacing:0px;-webkit-text-stroke:0.2px currentColor;right:181.30px;text-align:right;">$108.5K</div>
<div style="position:absolute;left:635.10px;top:217.53px;width:18.50px;height:10.20px;background:#7ea63c;box-sizing:border-box;border:0.8px solid #6a9a2c"></div>
<div style="position:absolute;top:219.41px;font-size:7.7px;line-height:7.7px;color:#8f7a36;font-weight:normal;font-style:normal;white-space:nowrap;letter-spacing:0px;-webkit-text-stroke:0.2px currentColor;right:74.40px;text-align:right;">10 %</div>
<div style="position:absolute;left:419.00px;top:228.13px;width:310.00px;height:0.80px;background:#efefef;"></div>
<div style="position:absolute;top:231.54px;font-size:7.7px;line-height:7.7px;color:#3d62aa;font-weight:normal;font-style:normal;white-space:nowrap;letter-spacing:0px;-webkit-text-stroke:0.2px currentColor;left:422.40px;transform:scaleX(0.96);transform-origin:0 0;">Appliances</div>
<div style="position:absolute;top:231.54px;font-size:7.7px;line-height:7.7px;color:#8c7033;font-weight:normal;font-style:normal;white-space:nowrap;letter-spacing:0px;-webkit-text-stroke:0.2px currentColor;right:270.30px;text-align:right;">$1,011.1K</div>
<div style="position:absolute;left:535.20px;top:229.66px;width:23.30px;height:10.20px;background:#0567bd;"></div>
<div style="position:absolute;top:231.54px;font-size:7.7px;line-height:7.7px;color:#86812a;font-weight:normal;font-style:normal;white-space:nowrap;letter-spacing:0px;-webkit-text-stroke:0.2px currentColor;right:181.30px;text-align:right;">$141.7K</div>
<div style="position:absolute;left:635.10px;top:229.66px;width:24.30px;height:10.20px;background:#7ea63c;box-sizing:border-box;border:0.8px solid #6a9a2c"></div>
<div style="position:absolute;top:231.54px;font-size:7.7px;line-height:7.7px;color:#85832c;font-weight:normal;font-style:normal;white-space:nowrap;letter-spacing:0px;-webkit-text-stroke:0.2px currentColor;right:74.40px;text-align:right;">14 %</div>
<div style="position:absolute;left:419.00px;top:240.26px;width:310.00px;height:0.80px;background:#efefef;"></div>
<div style="position:absolute;top:243.67px;font-size:7.7px;line-height:7.7px;color:#3d62aa;font-weight:normal;font-style:normal;white-space:nowrap;letter-spacing:0px;-webkit-text-stroke:0.2px currentColor;left:422.40px;transform:scaleX(0.96);transform-origin:0 0;">Machines</div>
<div style="position:absolute;top:243.67px;font-size:7.7px;line-height:7.7px;color:#9a5c3a;font-weight:normal;font-style:normal;white-space:nowrap;letter-spacing:0px;-webkit-text-stroke:0.2px currentColor;right:270.30px;text-align:right;">$779.1K</div>
<div style="position:absolute;left:535.20px;top:241.79px;width:18.10px;height:10.20px;background:#0567bd;"></div>
<div style="position:absolute;top:243.67px;font-size:7.7px;line-height:7.7px;color:#9c5e3a;font-weight:normal;font-style:normal;white-space:nowrap;letter-spacing:0px;-webkit-text-stroke:0.2px currentColor;right:181.30px;text-align:right;">$58.9K</div>
<div style="position:absolute;left:635.10px;top:241.79px;width:9.70px;height:10.20px;background:#7ea63c;box-sizing:border-box;border:0.8px solid #6a9a2c"></div>
<div style="position:absolute;top:243.67px;font-size:7.7px;line-height:7.7px;color:#94723a;font-weight:normal;font-style:normal;white-space:nowrap;letter-spacing:0px;-webkit-text-stroke:0.2px currentColor;right:74.40px;text-align:right;">8 %</div>
<div style="position:absolute;left:419.00px;top:252.39px;width:310.00px;height:0.80px;background:#efefef;"></div>
<div style="position:absolute;top:255.80px;font-size:7.7px;line-height:7.7px;color:#3d62aa;font-weight:normal;font-style:normal;white-space:nowrap;letter-spacing:0px;-webkit-text-stroke:0.2px currentColor;left:422.40px;transform:scaleX(0.96);transform-origin:0 0;">Tables</div>
<div style="position:absolute;top:255.80px;font-size:7.7px;line-height:7.7px;color:#986136;font-weight:normal;font-style:normal;white-space:nowrap;letter-spacing:0px;-webkit-text-stroke:0.2px currentColor;right:270.30px;text-align:right;">$757.0K</div>
<div style="position:absolute;left:535.20px;top:253.92px;width:17.70px;height:10.20px;background:#0567bd;"></div>
<div style="position:absolute;top:255.80px;font-size:7.7px;line-height:7.7px;color:#b83d4c;font-weight:normal;font-style:normal;white-space:nowrap;letter-spacing:0px;-webkit-text-stroke:0.2px currentColor;right:181.30px;text-align:right;">($64.1K)</div>
<div style="position:absolute;left:624.30px;top:253.92px;width:10.80px;height:10.20px;background:#f0505f;"></div>
<div style="position:absolute;top:255.80px;font-size:7.7px;line-height:7.7px;color:#b83d4c;font-weight:normal;font-style:normal;white-space:nowrap;letter-spacing:0px;-webkit-text-stroke:0.2px currentColor;right:74.40px;text-align:right;">-8 %</div>
<div style="position:absolute;left:419.00px;top:264.52px;width:310.00px;height:0.80px;background:#efefef;"></div>
<div style="position:absolute;top:267.93px;font-size:7.7px;line-height:7.7px;color:#3d62aa;font-weight:normal;font-style:normal;white-space:nowrap;letter-spacing:0px;-webkit-text-stroke:0.2px currentColor;left:422.40px;transform:scaleX(0.96);transform-origin:0 0;">Accessories</div>
<div style="position:absolute;top:267.93px;font-size:7.7px;line-height:7.7px;color:#926935;font-weight:normal;font-style:normal;white-space:nowrap;letter-spacing:0px;-webkit-text-stroke:0.2px currentColor;right:270.30px;text-align:right;">$749.2K</div>
<div style="position:absolute;left:535.20px;top:266.05px;width:17.00px;height:10.20px;background:#0567bd;"></div>
<div style="position:absolute;top:267.93px;font-size:7.7px;line-height:7.7px;color:#86812a;font-weight:normal;font-style:normal;white-space:nowrap;letter-spacing:0px;-webkit-text-stroke:0.2px currentColor;right:181.30px;text-align:right;">$129.6K</div>
<div style="position:absolute;left:635.10px;top:266.05px;width:22.10px;height:10.20px;background:#7ea63c;box-sizing:border-box;border:0.8px solid #6a9a2c"></div>
<div style="position:absolute;top:267.93px;font-size:7.7px;line-height:7.7px;color:#83882c;font-weight:normal;font-style:normal;white-space:nowrap;letter-spacing:0px;-webkit-text-stroke:0.2px currentColor;right:74.40px;text-align:right;">17 %</div>
<div style="position:absolute;left:419.00px;top:276.65px;width:310.00px;height:0.80px;background:#efefef;"></div>
<div style="position:absolute;top:280.06px;font-size:7.7px;line-height:7.7px;color:#3d62aa;font-weight:normal;font-style:normal;white-space:nowrap;letter-spacing:0px;-webkit-text-stroke:0.2px currentColor;left:422.40px;transform:scaleX(0.96);transform-origin:0 0;">Binders</div>
<div style="position:absolute;top:280.06px;font-size:7.7px;line-height:7.7px;color:#a5483c;font-weight:normal;font-style:normal;white-space:nowrap;letter-spacing:0px;-webkit-text-stroke:0.2px currentColor;right:270.30px;text-align:right;">$461.9K</div>
<div style="position:absolute;left:535.20px;top:278.18px;width:10.50px;height:10.20px;background:#0567bd;"></div>
<div style="position:absolute;top:280.06px;font-size:7.7px;line-height:7.7px;color:#9c683a;font-weight:normal;font-style:normal;white-space:nowrap;letter-spacing:0px;-webkit-text-stroke:0.2px currentColor;right:181.30px;text-align:right;">$72.4K</div>
<div style="position:absolute;left:635.10px;top:278.18px;width:11.90px;height:10.20px;background:#7ea63c;box-sizing:border-box;border:0.8px solid #6a9a2c"></div>
<div style="position:absolute;top:280.06px;font-size:7.7px;line-height:7.7px;color:#86832c;font-weight:normal;font-style:normal;white-space:nowrap;letter-spacing:0px;-webkit-text-stroke:0.2px currentColor;right:74.40px;text-align:right;">16 %</div>
<div style="position:absolute;left:419.00px;top:288.78px;width:310.00px;height:0.80px;background:#efefef;"></div>
<div style="position:absolute;top:292.19px;font-size:7.7px;line-height:7.7px;color:#3d62aa;font-weight:normal;font-style:normal;white-space:nowrap;letter-spacing:0px;-webkit-text-stroke:0.2px currentColor;left:422.40px;transform:scaleX(0.96);transform-origin:0 0;">Furnishings</div>
<div style="position:absolute;top:292.19px;font-size:7.7px;line-height:7.7px;color:#a7443d;font-weight:normal;font-style:normal;white-space:nowrap;letter-spacing:0px;-webkit-text-stroke:0.2px currentColor;right:270.30px;text-align:right;">$385.6K</div>
<div style="position:absolute;left:535.20px;top:290.31px;width:9.10px;height:10.20px;background:#0567bd;"></div>
<div style="position:absolute;top:292.19px;font-size:7.7px;line-height:7.7px;color:#9c5e3a;font-weight:normal;font-style:normal;white-space:nowrap;letter-spacing:0px;-webkit-text-stroke:0.2px currentColor;right:181.30px;text-align:right;">$47.0K</div>
<div style="position:absolute;left:635.10px;top:290.31px;width:7.90px;height:10.20px;background:#7ea63c;box-sizing:border-box;border:0.8px solid #6a9a2c"></div>
<div style="position:absolute;top:292.19px;font-size:7.7px;line-height:7.7px;color:#907a36;font-weight:normal;font-style:normal;white-space:nowrap;letter-spacing:0px;-webkit-text-stroke:0.2px currentColor;right:74.40px;text-align:right;">12 %</div>
<div style="position:absolute;left:419.00px;top:300.91px;width:310.00px;height:0.80px;background:#efefef;"></div>
<div style="position:absolute;top:304.32px;font-size:7.7px;line-height:7.7px;color:#3d62aa;font-weight:normal;font-style:normal;white-space:nowrap;letter-spacing:0px;-webkit-text-stroke:0.2px currentColor;left:422.40px;transform:scaleX(0.96);transform-origin:0 0;">Art</div>
<div style="position:absolute;top:304.32px;font-size:7.7px;line-height:7.7px;color:#a7443d;font-weight:normal;font-style:normal;white-space:nowrap;letter-spacing:0px;-webkit-text-stroke:0.2px currentColor;right:270.30px;text-align:right;">$372.1K</div>
<div style="position:absolute;left:535.20px;top:302.44px;width:8.50px;height:10.20px;background:#0567bd;"></div>
<div style="position:absolute;top:304.32px;font-size:7.7px;line-height:7.7px;color:#9c5e3a;font-weight:normal;font-style:normal;white-space:nowrap;letter-spacing:0px;-webkit-text-stroke:0.2px currentColor;right:181.30px;text-align:right;">$58.0K</div>
<div style="position:absolute;left:635.10px;top:302.44px;width:9.70px;height:10.20px;background:#7ea63c;box-sizing:border-box;border:0.8px solid #6a9a2c"></div>
<div style="position:absolute;top:304.32px;font-size:7.7px;line-height:7.7px;color:#86832c;font-weight:normal;font-style:normal;white-space:nowrap;letter-spacing:0px;-webkit-text-stroke:0.2px currentColor;right:74.40px;text-align:right;">16 %</div>
<div style="position:absolute;left:419.00px;top:313.04px;width:310.00px;height:0.80px;background:#efefef;"></div>
<div style="position:absolute;top:316.45px;font-size:7.7px;line-height:7.7px;color:#3d62aa;font-weight:normal;font-style:normal;white-space:nowrap;letter-spacing:0px;-webkit-text-stroke:0.2px currentColor;left:422.40px;transform:scaleX(0.96);transform-origin:0 0;">Paper</div>
<div style="position:absolute;top:316.45px;font-size:7.7px;line-height:7.7px;color:#aa3f3d;font-weight:normal;font-style:normal;white-space:nowrap;letter-spacing:0px;-webkit-text-stroke:0.2px currentColor;right:270.30px;text-align:right;">$244.3K</div>
<div style="position:absolute;left:535.20px;top:314.57px;width:5.50px;height:10.20px;background:#0567bd;"></div>
<div style="position:absolute;top:316.45px;font-size:7.7px;line-height:7.7px;color:#9c5e3a;font-weight:normal;font-style:normal;white-space:nowrap;letter-spacing:0px;-webkit-text-stroke:0.2px currentColor;right:181.30px;text-align:right;">$59.2K</div>
<div style="position:absolute;left:635.10px;top:314.57px;width:9.70px;height:10.20px;background:#7ea63c;box-sizing:border-box;border:0.8px solid #6a9a2c"></div>
<div style="position:absolute;top:316.45px;font-size:7.7px;line-height:7.7px;color:#709636;font-weight:normal;font-style:normal;white-space:nowrap;letter-spacing:0px;-webkit-text-stroke:0.2px currentColor;right:74.40px;text-align:right;">24 %</div>
<div style="position:absolute;left:419.00px;top:325.17px;width:310.00px;height:0.80px;background:#efefef;"></div>
<div style="position:absolute;top:328.58px;font-size:7.7px;line-height:7.7px;color:#3d62aa;font-weight:normal;font-style:normal;white-space:nowrap;letter-spacing:0px;-webkit-text-stroke:0.2px currentColor;left:422.40px;transform:scaleX(0.96);transform-origin:0 0;">Supplies</div>
<div style="position:absolute;top:328.58px;font-size:7.7px;line-height:7.7px;color:#aa3f3d;font-weight:normal;font-style:normal;white-space:nowrap;letter-spacing:0px;-webkit-text-stroke:0.2px currentColor;right:270.30px;text-align:right;">$243.1K</div>
<div style="position:absolute;left:535.20px;top:326.70px;width:5.50px;height:10.20px;background:#0567bd;"></div>
<div style="position:absolute;top:328.58px;font-size:7.7px;line-height:7.7px;color:#9c5e3a;font-weight:normal;font-style:normal;white-space:nowrap;letter-spacing:0px;-webkit-text-stroke:0.2px currentColor;right:181.30px;text-align:right;">$22.6K</div>
<div style="position:absolute;left:635.10px;top:326.70px;width:4.10px;height:10.20px;background:#7ea63c;box-sizing:border-box;border:0.8px solid #6a9a2c"></div>
<div style="position:absolute;top:328.58px;font-size:7.7px;line-height:7.7px;color:#94723a;font-weight:normal;font-style:normal;white-space:nowrap;letter-spacing:0px;-webkit-text-stroke:0.2px currentColor;right:74.40px;text-align:right;">9 %</div>
<div style="position:absolute;left:419.00px;top:337.30px;width:310.00px;height:0.80px;background:#efefef;"></div>
<div style="position:absolute;top:340.71px;font-size:7.7px;line-height:7.7px;color:#3d62aa;font-weight:normal;font-style:normal;white-space:nowrap;letter-spacing:0px;-webkit-text-stroke:0.2px currentColor;left:422.40px;transform:scaleX(0.96);transform-origin:0 0;">Phones</div>
<div style="position:absolute;top:340.71px;font-size:7.7px;line-height:7.7px;color:#aa3f3d;font-weight:normal;font-style:normal;white-space:nowrap;letter-spacing:0px;-webkit-text-stroke:0.2px currentColor;right:270.30px;text-align:right;">$233.1K</div>
<div style="position:absolute;left:535.20px;top:338.83px;width:4.20px;height:10.20px;background:#0567bd;"></div>
<div style="position:absolute;top:340.71px;font-size:7.7px;line-height:7.7px;color:#9c5e3a;font-weight:normal;font-style:normal;white-space:nowrap;letter-spacing:0px;-webkit-text-stroke:0.2px currentColor;right:181.30px;text-align:right;">$30.6K</div>
<div style="position:absolute;left:635.10px;top:338.83px;width:5.20px;height:10.20px;background:#7ea63c;box-sizing:border-box;border:0.8px solid #6a9a2c"></div>
<div style="position:absolute;top:340.71px;font-size:7.7px;line-height:7.7px;color:#907a36;font-weight:normal;font-style:normal;white-space:nowrap;letter-spacing:0px;-webkit-text-stroke:0.2px currentColor;right:74.40px;text-align:right;">13 %</div>
<div style="position:absolute;left:419.00px;top:349.43px;width:310.00px;height:0.80px;background:#efefef;"></div>
</div>
<div style="position:absolute;left:634.80px;top:204.00px;width:0.70px;height:137.00px;background:#d8d8d8;"></div>
<div style="position:absolute;left:736.40px;top:187.00px;width:5.20px;height:149.00px;background:#f2f2f2;"></div>
<div style="position:absolute;left:736.90px;top:223.00px;width:4.20px;height:77.60px;background:#c6c6c6;"></div>
<svg style="position:absolute;left:736px;top:192px" width="6" height="4" viewBox="0 0 6 4"><path d="M1 3.2 L3 1 L5 3.2" fill="none" stroke="#444" stroke-width="0.8"/></svg>
<svg style="position:absolute;left:736px;top:326.5px" width="6" height="4" viewBox="0 0 6 4"><path d="M1 0.8 L3 3 L5 0.8" fill="none" stroke="#444" stroke-width="0.8"/></svg>
<div id="t_top5" style="position:absolute;top:357.37px;font-size:7.6px;line-height:7.6px;color:#333;font-weight:bold;font-style:normal;white-space:nowrap;letter-spacing:0px;-webkit-text-stroke:0.1px currentColor;left:422.80px;transform:scaleX(0.871);transform-origin:0 0;">TOP 5 CITIES BY SALES</div>
<div style="position:absolute;left:461.75px;top:368.20px;width:104.65px;height:10.55px;background:#00c1f9;"></div>
<div style="position:absolute;top:370.66px;font-size:6.4px;line-height:6.4px;color:#555;font-weight:normal;font-style:normal;white-space:nowrap;letter-spacing:0px;-webkit-text-stroke:0.1px currentColor;right:343.40px;text-align:right;transform:scaleX(0.93);transform-origin:100% 0;">New York City</div>
<div style="position:absolute;top:370.57px;font-size:6.5px;line-height:6.5px;color:#333;font-weight:normal;font-style:normal;white-space:nowrap;letter-spacing:0px;-webkit-text-stroke:0.1px currentColor;left:565.00px;">256.4K</div>
<div style="position:absolute;left:461.75px;top:382.10px;width:72.00px;height:10.60px;background:#00c1f9;"></div>
<div style="position:absolute;top:384.58px;font-size:6.4px;line-height:6.4px;color:#555;font-weight:normal;font-style:normal;white-space:nowrap;letter-spacing:0px;-webkit-text-stroke:0.1px currentColor;right:343.40px;text-align:right;transform:scaleX(0.93);transform-origin:100% 0;">Los Angeles</div>
<div style="position:absolute;top:384.50px;font-size:6.5px;line-height:6.5px;color:#333;font-weight:normal;font-style:normal;white-space:nowrap;letter-spacing:0px;-webkit-text-stroke:0.1px currentColor;left:538.30px;">175.9K</div>
<div style="position:absolute;left:461.75px;top:396.00px;width:49.50px;height:10.20px;background:#00c1f9;"></div>
<div style="position:absolute;top:398.28px;font-size:6.4px;line-height:6.4px;color:#555;font-weight:normal;font-style:normal;white-space:nowrap;letter-spacing:0px;-webkit-text-stroke:0.1px currentColor;right:343.40px;text-align:right;transform:scaleX(0.93);transform-origin:100% 0;">Manila</div>
<div style="position:absolute;top:398.20px;font-size:6.5px;line-height:6.5px;color:#333;font-weight:normal;font-style:normal;white-space:nowrap;letter-spacing:0px;-webkit-text-stroke:0.1px currentColor;left:515.75px;">120.9K</div>
<div style="position:absolute;left:461.75px;top:409.60px;width:48.85px;height:10.40px;background:#00c1f9;"></div>
<div style="position:absolute;top:411.98px;font-size:6.4px;line-height:6.4px;color:#555;font-weight:normal;font-style:normal;white-space:nowrap;letter-spacing:0px;-webkit-text-stroke:0.1px currentColor;right:343.40px;text-align:right;transform:scaleX(0.93);transform-origin:100% 0;">Seattle</div>
<div style="position:absolute;top:411.90px;font-size:6.5px;line-height:6.5px;color:#333;font-weight:normal;font-style:normal;white-space:nowrap;letter-spacing:0px;-webkit-text-stroke:0.1px currentColor;left:515.00px;">119.5K</div>
<div style="position:absolute;left:461.75px;top:423.30px;width:46.15px;height:10.60px;background:#00c1f9;"></div>
<div style="position:absolute;top:425.78px;font-size:6.4px;line-height:6.4px;color:#555;font-weight:normal;font-style:normal;white-space:nowrap;letter-spacing:0px;-webkit-text-stroke:0.1px currentColor;right:343.40px;text-align:right;transform:scaleX(0.93);transform-origin:100% 0;">San Francisco</div>
<div style="position:absolute;top:425.70px;font-size:6.5px;line-height:6.5px;color:#333;font-weight:normal;font-style:normal;white-space:nowrap;letter-spacing:0px;-webkit-text-stroke:0.1px currentColor;left:512.80px;">112.7K</div>
<div style="position:absolute;left:587.40px;top:358.00px;width:0.70px;height:78.00px;background:#e8e8e8;"></div>
<div id="t_scat" style="position:absolute;top:357.37px;font-size:7.6px;line-height:7.6px;color:#333;font-weight:bold;font-style:normal;white-space:nowrap;letter-spacing:0px;-webkit-text-stroke:0.1px currentColor;left:597.00px;transform:scaleX(0.865);transform-origin:0 0;">SALES BY CATEGORY FOR SELECTED CITY</div>
<div style="position:absolute;left:639.10px;top:371.10px;width:78.90px;height:16.50px;background:#00c1f9;"></div>
<div style="position:absolute;top:376.55px;font-size:6.5px;line-height:6.5px;color:#555;font-weight:normal;font-style:normal;white-space:nowrap;letter-spacing:0px;-webkit-text-stroke:0.1px currentColor;right:165.80px;text-align:right;transform:scaleX(0.95);transform-origin:100% 0;">Technology</div>
<div style="position:absolute;top:376.55px;font-size:6.5px;line-height:6.5px;color:#333;font-weight:normal;font-style:normal;white-space:nowrap;letter-spacing:0px;-webkit-text-stroke:0.1px currentColor;left:716.00px;">4744.6K</div>
<div style="position:absolute;left:639.10px;top:392.60px;width:68.80px;height:16.20px;background:#00c1f9;"></div>
<div style="position:absolute;top:397.90px;font-size:6.5px;line-height:6.5px;color:#555;font-weight:normal;font-style:normal;white-space:nowrap;letter-spacing:0px;-webkit-text-stroke:0.1px currentColor;right:165.80px;text-align:right;transform:scaleX(0.95);transform-origin:100% 0;">Furniture</div>
<div style="position:absolute;top:397.90px;font-size:6.5px;line-height:6.5px;color:#333;font-weight:normal;font-style:normal;white-space:nowrap;letter-spacing:0px;-webkit-text-stroke:0.1px currentColor;left:712.00px;">4110.9K</div>
<div style="position:absolute;left:639.10px;top:413.75px;width:63.30px;height:16.50px;background:#00c1f9;"></div>
<div style="position:absolute;top:419.20px;font-size:6.5px;line-height:6.5px;color:#555;font-weight:normal;font-style:normal;white-space:nowrap;letter-spacing:0px;-webkit-text-stroke:0.1px currentColor;right:165.80px;text-align:right;transform:scaleX(0.95);transform-origin:100% 0;">Office Supplies</div>
<div style="position:absolute;top:419.20px;font-size:6.5px;line-height:6.5px;color:#333;font-weight:normal;font-style:normal;white-space:nowrap;letter-spacing:0px;-webkit-text-stroke:0.1px currentColor;left:707.00px;">3787.1K</div>
<div style="position:absolute;left:10.00px;top:446.50px;width:21.00px;height:19.50px;background:#e0e0e0;"></div>
<svg style="position:absolute;left:12px;top:453px" width="20" height="8" viewBox="0 0 20 8"><path d="M4.5 1 L2 4 L4.5 7 M14.5 1 L17 4 L14.5 7" fill="none" stroke="#bbb" stroke-width="0.9"/></svg>
<div style="position:absolute;left:31.00px;top:446.50px;width:105.40px;height:19.50px;background:#fff;"></div>
<div style="position:absolute;left:31.00px;top:464.60px;width:105.40px;height:1.40px;background:#f0c20c;"></div>
<div id="tab" style="position:absolute;top:452.97px;font-size:7.6px;line-height:7.6px;color:#444;font-weight:normal;font-style:normal;white-space:nowrap;letter-spacing:0px;left:42.90px;transform:scaleX(0.906);transform-origin:0 0;">Superstore Global Analysis</div>
<svg style="position:absolute;left:0;top:0" width="800" height="476" viewBox="0 0 800 476"><defs><clipPath id="mc"><rect x="231" y="186" width="173" height="248"/></clipPath></defs><g clip-path="url(#mc)"><rect x="231" y="186" width="173" height="248" fill="#a8c7f1"/><polygon points="231.0,186.0 253.0,186.0 252.0,191.0 247.0,198.0 242.0,204.0 240.0,211.0 245.0,219.0 250.0,227.0 252.5,237.0 251.0,246.0 245.0,246.0 238.0,240.0 234.0,236.0 231.0,234.0" fill="#f2f0ea" /><polyline points="231.0,201.0 236.0,197.0 242.0,193.0 249.0,189.0" fill="none" stroke="#a8c7f1" stroke-width="2.2" stroke-linecap="round" stroke-linejoin="round"/><polyline points="231.0,213.0 236.0,210.0 240.0,207.0" fill="none" stroke="#a8c7f1" stroke-width="1.8" stroke-linecap="round" stroke-linejoin="round"/><polyline points="233.0,224.0 239.0,229.0 244.0,236.0 248.0,243.0" fill="none" stroke="#a8c7f1" stroke-width="2.0" stroke-linecap="round" stroke-linejoin="round"/><polyline points="231.0,221.0 237.0,220.0" fill="none" stroke="#a8c7f1" stroke-width="1.5" stroke-linecap="round" stroke-linejoin="round"/><polyline points="236.0,190.0 240.0,188.0" fill="none" stroke="#a8c7f1" stroke-width="0.8" stroke-linecap="round" stroke-linejoin="round"/><polygon points="231.0,239.0 236.0,242.0 240.0,247.0 238.0,252.0 231.0,251.0" fill="#f2f0ea" /><polygon points="231.0,253.0 236.9,254.4 242.8,252.9 248.6,257.4 253.1,263.2 256.7,269.1 257.5,272.8 253.1,274.3 248.6,276.5 245.0,284.0 242.0,292.0 238.0,297.0 234.0,303.0 231.0,306.0" fill="#f2f0ea" /><polygon points="231.0,300.0 234.0,303.0 237.0,309.0 236.0,314.0 233.0,317.0 231.0,318.0" fill="#f2f0ea" /><polygon points="253.1,194.8 257.5,191.9 263.4,188.9 269.2,187.8 275.1,188.2 281.0,190.4 285.4,193.4 289.8,196.3 292.8,197.8 289.8,202.2 286.9,208.1 287.6,215.4 286.1,221.3 283.9,227.2 281.0,233.1 276.6,238.9 272.2,244.8 267.8,250.7 266.3,256.0 262.6,256.0 260.4,247.8 259.7,238.9 258.2,230.1 254.5,222.8 250.1,218.4 245.7,213.9 248.6,209.5 251.6,203.6" fill="#f2f0ea" /><polygon points="285.4,247.5 289.0,246.3 292.8,247.8 292.0,250.8 287.5,251.4 285.6,250.0" fill="#f2f0ea" /><polygon points="313.0,206.0 316.0,203.0 321.0,204.0 324.0,207.0 321.0,212.0 317.0,214.0 315.0,210.0" fill="#f2f0ea" /><ellipse cx="349" cy="202" rx="5" ry="1.6" fill="#f2f0ea" transform="rotate(-10 349 202)"/><polyline points="360.5,218.4 356.0,220.5 352.3,223.2 349.5,227.0 348.9,230.0 349.6,235.5" fill="none" stroke="#f2f0ea" stroke-width="1.8" stroke-linecap="round" stroke-linejoin="round"/><polygon points="381.0,201.0 385.0,200.0 389.0,206.0 388.0,213.7 384.0,211.0 382.0,206.0" fill="#f2f0ea" /><polygon points="307.6,258.1 309.9,252.9 313.5,247.1 317.9,242.6 323.8,239.0 329.0,237.1 334.1,239.0 337.8,243.4 340.0,247.8 343.7,245.6 345.5,241.0 350.9,241.0 356.4,238.2 360.5,234.1 366.0,232.8 371.4,228.7 376.9,224.6 382.3,221.8 387.8,217.8 391.9,216.4 396.0,220.5 397.4,225.9 400.1,229.4 405.0,228.7 405.0,284.0 402.1,284.3 398.0,289.0 395.0,291.4 398.6,298.6 396.8,305.7 393.2,309.3 389.6,314.0 389.0,320.0 386.0,314.0 385.2,311.1 383.4,305.7 380.7,301.3 378.9,300.4 373.6,303.9 370.0,311.0 368.2,312.9 365.0,305.0 363.8,299.5 362.9,298.6 355.7,296.8 353.9,303.0 350.4,306.0 347.0,309.5 345.4,307.3 345.5,312.0 340.7,319.2 337.5,325.5 335.9,333.5 331.1,341.5 326.3,347.9 320.8,350.3 316.8,343.1 314.4,331.9 312.8,322.3 310.4,315.2 304.0,314.4 297.6,311.2 292.0,304.8 290.4,298.4 296.0,292.0 300.0,289.5 297.0,286.0 298.0,281.0 302.5,279.5 302.0,276.0 306.0,273.0 306.0,267.0 310.0,264.0" fill="#f2f0ea" /><polygon points="300.0,289.0 302.0,286.5 305.0,283.0 308.0,280.0 310.9,279.8 315.1,278.9 318.5,282.3 321.0,284.8 325.2,283.1 328.6,284.8 333.6,287.3 334.5,291.5 327.7,292.4 321.0,292.4 316.8,290.7 312.6,289.0 308.4,288.4 303.0,289.2" fill="#a8c7f1" /><polyline points="316.0,279.5 319.0,282.5" fill="none" stroke="#a8c7f1" stroke-width="1.6" stroke-linecap="round" stroke-linejoin="round"/><ellipse cx="332.5" cy="279.8" rx="5.3" ry="2.6" fill="#a8c7f1" transform="rotate(5 332.5 279.8)"/><ellipse cx="345.8" cy="281.6" rx="2.7" ry="5.3" fill="#a8c7f1" transform="rotate(8 345.8 281.6)"/><ellipse cx="353.3" cy="278" rx="1.3" ry="1.6" fill="#a8c7f1" transform="rotate(0 353.3 278)"/><polyline points="331.1,294.9 334.0,300.0 337.8,307.5 345.0,309.0" fill="none" stroke="#a8c7f1" stroke-width="2.2" stroke-linecap="round" stroke-linejoin="round"/><polyline points="343.7,294.0 347.0,297.0 350.4,299.9" fill="none" stroke="#a8c7f1" stroke-width="2.0" stroke-linecap="round" stroke-linejoin="round"/><polygon points="321.6,251.0 325.3,249.5 326.0,254.0 324.0,259.0 322.0,262.0 320.0,264.0 317.0,266.0 318.0,262.0 320.0,257.0" fill="#a8c7f1" /><polygon points="309.0,259.0 312.0,262.0 311.0,266.0 307.0,266.0 306.5,262.0" fill="#a8c7f1" /><polygon points="336.0,246.0 341.0,246.5 341.0,250.0 337.0,250.5" fill="#a8c7f1" /><ellipse cx="404" cy="276" rx="2.5" ry="6" fill="#a8c7f1" transform="rotate(20 404 276)"/><polygon points="301.0,261.0 304.0,259.0 306.0,264.0 305.5,271.0 301.0,272.0 299.5,267.0" fill="#f2f0ea" /><ellipse cx="297.8" cy="267" rx="1.6" ry="2.2" fill="#f2f0ea" transform="rotate(0 297.8 267)"/><ellipse cx="370.5" cy="314" rx="1" ry="1.5" fill="#f2f0ea" transform="rotate(0 370.5 314)"/><ellipse cx="343" cy="337" rx="1.6" ry="4.5" fill="#f2f0ea" transform="rotate(20 343 337)"/><polygon points="383.4,314.6 387.0,317.0 391.4,322.0 390.0,324.0 386.0,320.0" fill="#f2f0ea" /><polygon points="395.0,316.0 399.0,314.6 402.0,317.0 401.0,322.5 396.0,323.0" fill="#f2f0ea" /><polyline points="388.0,326.0 393.0,327.5 398.0,328.0" fill="none" stroke="#f2f0ea" stroke-width="1.2" stroke-linecap="round" stroke-linejoin="round"/><polygon points="402.0,312.0 405.0,310.0 405.0,326.0 403.0,324.0" fill="#f2f0ea" /><polygon points="397.0,355.0 398.6,344.0 402.0,341.4 405.0,340.0 405.0,355.0" fill="#f2f0ea" /><polygon points="238.0,315.0 242.0,311.5 247.0,310.5 252.0,312.0 257.0,313.5 262.0,316.0 268.0,320.0 273.0,324.0 274.5,329.0 272.0,335.0 267.0,340.0 263.0,346.0 258.0,352.0 254.0,358.0 251.0,365.0 249.0,372.0 246.5,371.0 245.0,365.0 245.0,355.0 244.5,347.0 243.0,337.0 240.0,328.0 237.5,320.0" fill="#f2f0ea" /><polygon points="262.0,434.0 268.4,428.8 276.0,423.0 284.5,416.7 292.0,410.0 296.6,406.6 302.0,404.0 308.7,402.5 318.0,400.5 330.2,400.5 338.0,397.0 346.3,394.4 352.0,397.0 360.4,400.5 363.4,404.5 367.0,399.0 370.5,396.5 378.0,394.5 386.6,393.4 395.0,394.0 404.0,394.4 404.0,434.0" fill="#f2f0ea" /><polygon points="231.0,405.0 238.0,402.0 246.0,397.0 252.0,390.0 255.5,388.0 254.0,394.0 250.0,400.0 253.0,406.0 254.0,412.0 249.0,417.0 240.0,419.0 236.0,424.0 236.5,434.0 231.0,434.0" fill="#f2f0ea" /><text x="389.5" y="266.6" font-size="5.8" fill="#333" textLength="13" lengthAdjust="spacingAndGlyphs" font-weight="normal" text-anchor="middle" letter-spacing="0" font-family="Liberation Sans, sans-serif" stroke="#333" stroke-width="0.12">ASIA</text><text x="323.5" y="272.4" font-size="5.8" fill="#333" textLength="23" lengthAdjust="spacingAndGlyphs" font-weight="normal" text-anchor="middle" letter-spacing="0" font-family="Liberation Sans, sans-serif" stroke="#333" stroke-width="0.12">EUROPE</text><text x="324.6" y="317" font-size="5.8" fill="#333" textLength="20" lengthAdjust="spacingAndGlyphs" font-weight="normal" text-anchor="middle" letter-spacing="0" font-family="Liberation Sans, sans-serif" stroke="#333" stroke-width="0.12">AFRICA</text><text x="262" y="331.4" font-size="5.8" fill="#333" textLength="17" lengthAdjust="spacingAndGlyphs" font-weight="normal" text-anchor="middle" letter-spacing="0" font-family="Liberation Sans, sans-serif" stroke="#333" stroke-width="0.12">SOUTH</text><text x="262" y="337.6" font-size="5.8" fill="#333" textLength="24" lengthAdjust="spacingAndGlyphs" font-weight="normal" text-anchor="middle" letter-spacing="0" font-family="Liberation Sans, sans-serif" stroke="#333" stroke-width="0.12">AMERICA</text><text x="352.6" y="413.9" font-size="5.8" fill="#333" textLength="36" lengthAdjust="spacingAndGlyphs" font-weight="normal" text-anchor="middle" letter-spacing="0" font-family="Liberation Sans, sans-serif" stroke="#333" stroke-width="0.12">ANTARCTICA</text><text x="269.1" y="296" font-size="5.6" fill="#5b78aa" font-style="italic" textLength="45.6" lengthAdjust="spacingAndGlyphs" font-weight="normal" text-anchor="middle" letter-spacing="0" font-family="Liberation Sans, sans-serif" stroke="#5b78aa" stroke-width="0.12">Atlantic Ocean</text><text x="369.1" y="340" font-size="5.6" fill="#5b78aa" font-style="italic" textLength="41" lengthAdjust="spacingAndGlyphs" font-weight="normal" text-anchor="middle" letter-spacing="0" font-family="Liberation Sans, sans-serif" stroke="#5b78aa" stroke-width="0.12">Indian Ocean</text><text x="233.2" y="264.5" font-size="5.8" fill="#333" font-weight="normal" text-anchor="end" letter-spacing="0" font-family="Liberation Sans, sans-serif" stroke="#333" stroke-width="0.12">I</text><text x="234" y="271.8" font-size="5.8" fill="#333" font-weight="normal" text-anchor="end" letter-spacing="0" font-family="Liberation Sans, sans-serif" stroke="#333" stroke-width="0.12">A</text><circle cx="242" cy="283.8" r="9.4" fill="#38bdab" fill-opacity="0.88" stroke="#1d9585" stroke-width="0.9"/><circle cx="232.5" cy="281.6" r="3.2" fill="#38bdab" fill-opacity="0.88" stroke="#1d9585" stroke-width="0.9"/><circle cx="236.9" cy="294.1" r="3.1" fill="#38bdab" fill-opacity="0.88" stroke="#1d9585" stroke-width="0.9"/><circle cx="246.4" cy="304.7" r="3.9" fill="#38bdab" fill-opacity="0.88" stroke="#1d9585" stroke-width="0.9"/><circle cx="233.2" cy="309.6" r="4.5" fill="#38bdab" fill-opacity="0.88" stroke="#1d9585" stroke-width="0.9"/><circle cx="231" cy="311" r="3.5" fill="#38bdab" fill-opacity="0.88" stroke="#1d9585" stroke-width="0.9"/><circle cx="302.8" cy="265.7" r="3.2" fill="#38bdab" fill-opacity="0.88" stroke="#1d9585" stroke-width="0.9"/><circle cx="304.7" cy="270.4" r="3.5" fill="#38bdab" fill-opacity="0.88" stroke="#1d9585" stroke-width="0.9"/><circle cx="306.6" cy="274.2" r="3.5" fill="#38bdab" fill-opacity="0.88" stroke="#1d9585" stroke-width="0.9"/><circle cx="301.2" cy="283.8" r="3.5" fill="#38bdab" fill-opacity="0.88" stroke="#1d9585" stroke-width="0.9"/><circle cx="315.5" cy="269.1" r="3.5" fill="#38bdab" fill-opacity="0.88" stroke="#1d9585" stroke-width="0.9"/><circle cx="318" cy="275.1" r="3.2" fill="#38bdab" fill-opacity="0.88" stroke="#1d9585" stroke-width="0.9"/><circle cx="387.9" cy="308.4" r="3.7" fill="#38bdab" fill-opacity="0.88" stroke="#1d9585" stroke-width="0.9"/><circle cx="392.3" cy="325.4" r="4.4" fill="#38bdab" fill-opacity="0.88" stroke="#1d9585" stroke-width="0.9"/><circle cx="402.5" cy="308.2" r="4.6" fill="#38bdab" fill-opacity="0.88" stroke="#1d9585" stroke-width="0.9"/><circle cx="400.4" cy="348.2" r="3.6" fill="#38bdab" fill-opacity="0.88" stroke="#1d9585" stroke-width="0.9"/><circle cx="241.8" cy="284" r="4.4" fill="#2ea797" fill-opacity="0.8" stroke="#23968a" stroke-width="0.6"/><path d="M234.8 419.6 L234.8 428.2 L240.6 424.8 L237.3 423.2" fill="none" stroke="#111" stroke-width="1.5" stroke-linejoin="miter"/><text x="243.2" y="426.7" font-size="6.8" fill="#222" font-weight="normal" text-anchor="start" letter-spacing="0.25" font-family="Liberation Sans, sans-serif" stroke="#222" stroke-width="0.12">Bing</text><text x="268.8" y="430" font-size="4.9" fill="#222" textLength="102" lengthAdjust="spacingAndGlyphs" font-weight="normal" text-anchor="start" letter-spacing="0" font-family="Liberation Sans, sans-serif" stroke="#222" stroke-width="0.12">© 2019 HERE, © 2019 Microsoft Corporation</text><text x="375" y="430" font-size="4.9" fill="#3355bb" textLength="14" lengthAdjust="spacingAndGlyphs" font-weight="normal" text-anchor="start" letter-spacing="0" font-family="Liberation Sans, sans-serif" stroke="#3355bb" stroke-width="0.12">Terms</text><rect x="375" y="430.8" width="14" height="0.5" fill="#3355bb"/></g></svg>
</div>
</body></html>
